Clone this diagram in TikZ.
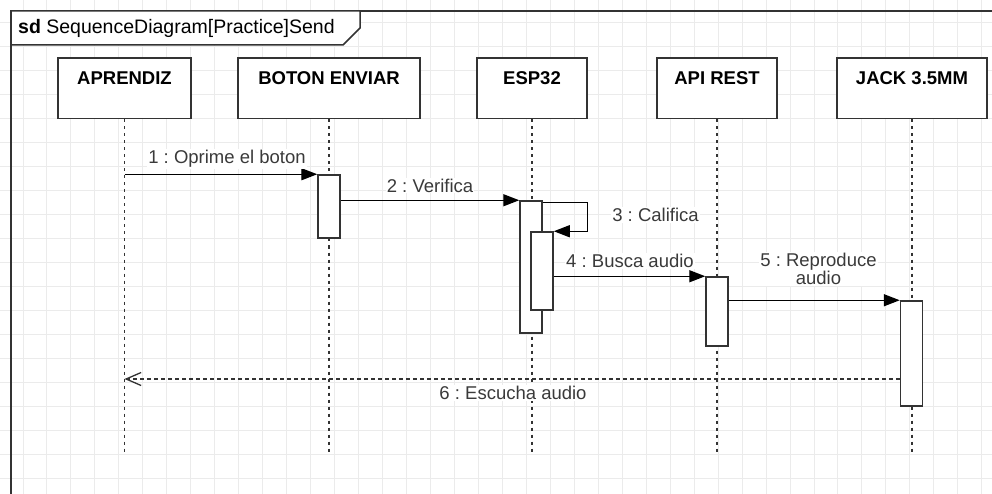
\documentclass[tikz,border=0pt]{standalone}
\usepackage{fontspec}
\setmainfont{Liberation Sans}
\usetikzlibrary{arrows.meta}
\frenchspacing
\definecolor{gridc}{HTML}{EBEBEB}
\definecolor{linec}{HTML}{333333}
\definecolor{txtc}{HTML}{3A3A3A}
\tikzset{
  hdrbox/.style={draw=linec, line width=1.5pt, fill=white, minimum height=60.5pt, inner sep=0pt},
  hdrtxt/.style={font=\fontsize{18.5}{20}\selectfont\bfseries, text=black, inner sep=0pt},
  act/.style={draw=linec, line width=1.5pt, fill=white, minimum width=22pt, inner sep=0pt},
  lifeline/.style={draw=linec, line width=1.9pt, dash pattern=on 3pt off 4pt},
  msg/.style={draw=black, line width=1.4pt, -{Triangle[length=16pt,width=12pt]}},
  ret/.style={draw=linec, line width=1.3pt, dash pattern=on 4pt off 3pt, -{Straight Barb[length=15pt,width=13pt,line width=1.3pt]}},
  lbl/.style={font=\fontsize{18.5}{18}\selectfont, text=txtc, fill=white, inner sep=1pt, align=center},
}
\begin{document}
\begin{tikzpicture}[x=1pt,y=-1pt]
\useasboundingbox (0,0) rectangle (992,494);
\clip (0,0) rectangle (992,494);
\fill[white] (0,0) rectangle (992,494);
% grid
\foreach \k in {0,...,40} { \draw[gridc, line width=1pt] ({23+23.97*\k},0) -- ({23+23.97*\k},494); }
\foreach \j in {0,...,20} { \draw[gridc, line width=1pt] (0,{22.6+23.97*\j}) -- (992,{22.6+23.97*\j}); }
% frame
\draw[linec, line width=1.5pt] (11,520) -- (11,11) -- (1010,11);
\draw[linec, line width=1.5pt, fill=white] (11,11) -- (360,11) -- (360,28) -- (343,45) -- (11,45) -- cycle;
\node[anchor=west, inner sep=0pt, font=\fontsize{19.5}{20}\selectfont, text=black] (title) at (18,28.5) {\textbf{sd} SequenceDiagram[Practice]Send};
% lifeline headers
\node[hdrbox, minimum width=133pt] (apr) at (124.5,88.5) {};
\node[hdrbox, minimum width=182pt] (bot) at (329,88.5) {};
\node[hdrbox, minimum width=110pt] (esp) at (532,88.5) {};
\node[hdrbox, minimum width=120pt] (api) at (717,88.5) {};
\node[hdrbox, minimum width=150pt] (jac) at (912,88.5) {};
\node[hdrtxt] (aprT) at (124.5,78) {APRENDIZ};
\node[hdrtxt] (botT) at (329,78) {BOTON ENVIAR};
\node[hdrtxt] (espT) at (532,78) {ESP32};
\node[hdrtxt] (apiT) at (717,78) {API REST};
\node[hdrtxt] (jacT) at (912,78) {JACK 3.5MM};
% lifelines
\coordinate (bottom) at (0,453);
\foreach \n in {apr,bot,esp,api,jac} { \draw[lifeline] (\n.south) -- (\n.south |- bottom); }
% activations
\node[act, minimum height=63pt] (a1) at (329,206.5) {};
\node[act, minimum height=132pt] (e1) at (531,267) {};
\node[act, minimum height=78pt] (e2) at (542,271) {};
\node[act, minimum height=69pt] (p1) at (717,311.5) {};
\node[act, minimum height=105pt] (j1) at (911.5,353.5) {};
% messages
\draw[msg] (apr.south |- a1.north) -- (a1.north west);
\draw[msg] (a1.east |- e1.north) -- (e1.north west);
\draw[msg] ([yshift=-2pt]e1.north east) -- ++(45,0) |- (e2.north east);
\draw[msg] (e2.east |- p1.north) -- (p1.north west);
\draw[msg] (p1.east |- j1.north) -- (j1.north west);
\coordinate (r6) at (0,379);
\draw[ret] (j1.west |- r6) -- (apr.south |- r6);
% labels
\node[lbl] (m1) at (227,159) {1 : Oprime el boton};
\node[lbl] (m2) at (430,185.5) {2 : Verifica};
\node[lbl] (m3) at (655.5,215) {3 : Califica};
\node[lbl] (m4) at (630,261) {4 : Busca audio};
\node[lbl] (m5) at (818.5,269) {5 : Reproduce\\audio};
\node[lbl] (m6) at (513,393) {6 : Escucha audio};
\end{tikzpicture}
\end{document}
